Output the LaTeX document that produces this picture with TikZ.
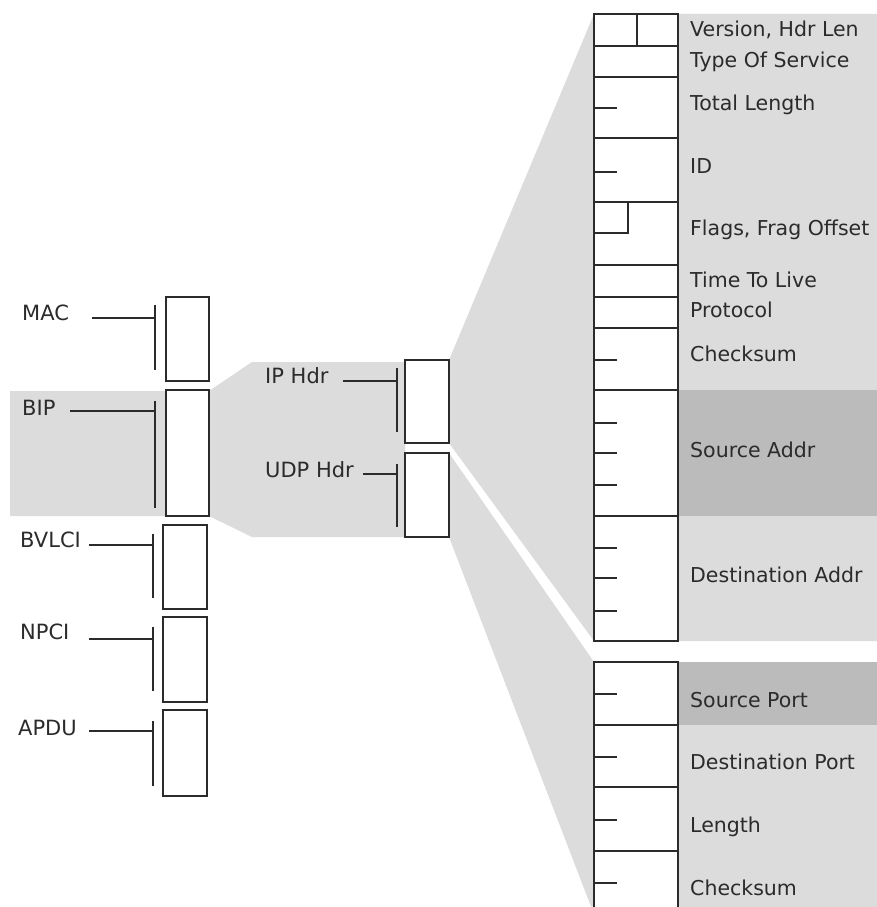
\documentclass[tikz,border=0pt]{standalone}
\usepackage{fontspec}
\setmainfont{DejaVu Sans}
\definecolor{lightgr}{HTML}{DCDCDC}
\definecolor{darkgr}{HTML}{BBBBBB}
\definecolor{ink}{HTML}{2B2B2B}
\newcommand\lblbracket[6]{%
  \coordinate (#1A) at (#2,#3);
  \coordinate (#1T) at (#4,#5);
  \coordinate (#1B) at (#4,#6);
  \draw[conn] (#1A) -- (#1A -| #1T);
  \draw[conn] (#1T) -- (#1B);}
\begin{document}
\begin{tikzpicture}[x=1pt,y=-1pt,
  conn/.style={draw=ink, line width=2.4pt},
  box/.style={draw=ink, fill=white, line width=2.4pt, rectangle, inner sep=0pt, outer sep=0pt, anchor=north west},
  fld/.style={box, minimum width=84pt},
  lbl/.style={anchor=base west, inner sep=0pt, font=\fontsize{21pt}{24pt}\selectfont, text=ink},
  flbl/.style={anchor=base west, inner sep=0pt, font=\fontsize{20.5pt}{24pt}\selectfont, text=ink}]
\useasboundingbox (0,0) rectangle (877,907);
\clip (0,0) rectangle (877,907);
\fill[white] (0,0) rectangle (877,907);
% gray backgrounds
\fill[lightgr] (10,391) -- (209,391) -- (252,362) -- (405,362) -- (405,537) -- (252,537) -- (209,516) -- (10,516) -- cycle;
\fill[lightgr] (449,360) -- (594,14) -- (877,14) -- (877,641) -- (594,641) -- (449,443) -- cycle;
\fill[lightgr] (449,453) -- (594,662) -- (877,662) -- (877,930) -- (600,930) -- (449,537) -- cycle;
\fill[darkgr] (678,390) rectangle (877,516);
\fill[darkgr] (678,662) rectangle (877,725);
% left column boxes
\node[box, minimum width=43pt, minimum height=84pt] (mac) at (166,297) {};
\node[box, minimum width=43pt, minimum height=126pt] (bip) at (166,390) {};
\node[box, minimum width=44pt, minimum height=84pt] (bvlci) at (163,525) {};
\node[box, minimum width=44pt, minimum height=85pt] (npci) at (163,617) {};
\node[box, minimum width=44pt, minimum height=86pt] (apdu) at (163,710) {};
\node[box, minimum width=44pt, minimum height=83pt] (iph) at (405,360) {};
\node[box, minimum width=44pt, minimum height=84pt] (udph) at (405,453) {};
% left labels
\node[lbl] (tmac) at (22,320) {MAC};
\node[lbl] (tbip) at (22,415) {BIP};
\node[lbl] (tbvlci) at (20,547) {BVLCI};
\node[lbl] (tnpci) at (20,639) {NPCI};
\node[lbl] (tapdu) at (18,735) {APDU};
\node[lbl] (tiph) at (265,383) {IP Hdr};
\node[lbl] (tudph) at (265,477) {UDP Hdr};
\lblbracket{bmac}{92}{318}{155}{305}{370}
\lblbracket{bbip}{70}{411}{155}{401}{508}
\lblbracket{bbvlci}{89}{545}{153}{534}{598}
\lblbracket{bnpci}{89}{639}{153}{627}{691}
\lblbracket{bapdu}{89}{731}{153}{721}{786}
\lblbracket{biph}{343}{381}{397}{368}{432}
\lblbracket{budph}{363}{474}{397}{464}{527}
% IP header fields
\node[fld, minimum height=32pt] (r1) at (594,14) {};
\node[fld, minimum height=31pt] (r2) at (594,46) {};
\node[fld, minimum height=61pt] (r3) at (594,77) {};
\node[fld, minimum height=64pt] (r4) at (594,138) {};
\node[fld, minimum height=63pt] (r5) at (594,202) {};
\node[fld, minimum height=32pt] (r6) at (594,265) {};
\node[fld, minimum height=31pt] (r7) at (594,297) {};
\node[fld, minimum height=62pt] (r8) at (594,328) {};
\node[fld, minimum height=126pt] (r9) at (594,390) {};
\node[fld, minimum height=125pt] (r10) at (594,516) {};
\draw[conn] (637,14) -- (637,46);
\draw[conn] (594,233) -- (628,233) -- (628,202);
\foreach \y in {108,172,360,423,453,485,548,578,611}
  \draw[conn] (594,\y) -- (617,\y);
% UDP header fields
\node[fld, minimum height=63pt] (u1) at (594,662) {};
\node[fld, minimum height=62pt] (u2) at (594,725) {};
\node[fld, minimum height=64pt] (u3) at (594,787) {};
\node[fld, minimum height=80pt] (u4) at (594,851) {};
\foreach \y in {694,757,820,883}
  \draw[conn] (594,\y) -- (617,\y);
% field labels
\node[flbl] (l1) at (690,37) {Version, Hdr Len};
\node[flbl] (l2) at (690,67) {Type Of Service};
\node[flbl] (l3) at (690,110) {Total Length};
\node[flbl] (l4) at (690,173) {ID};
\node[flbl] (l5) at (690,235) {Flags, Frag Offset};
\node[flbl] (l6) at (690,287) {Time To Live};
\node[flbl] (l7) at (690,317) {Protocol};
\node[flbl] (l8) at (690,361) {Checksum};
\node[flbl] (l9) at (690,457) {Source Addr};
\node[flbl] (l10) at (690,582) {Destination Addr};
\node[flbl] (m1) at (690,707) {Source Port};
\node[flbl] (m2) at (690,769) {Destination Port};
\node[flbl] (m3) at (690,832) {Length};
\node[flbl] (m4) at (690,895) {Checksum};
\end{tikzpicture}
\end{document}
